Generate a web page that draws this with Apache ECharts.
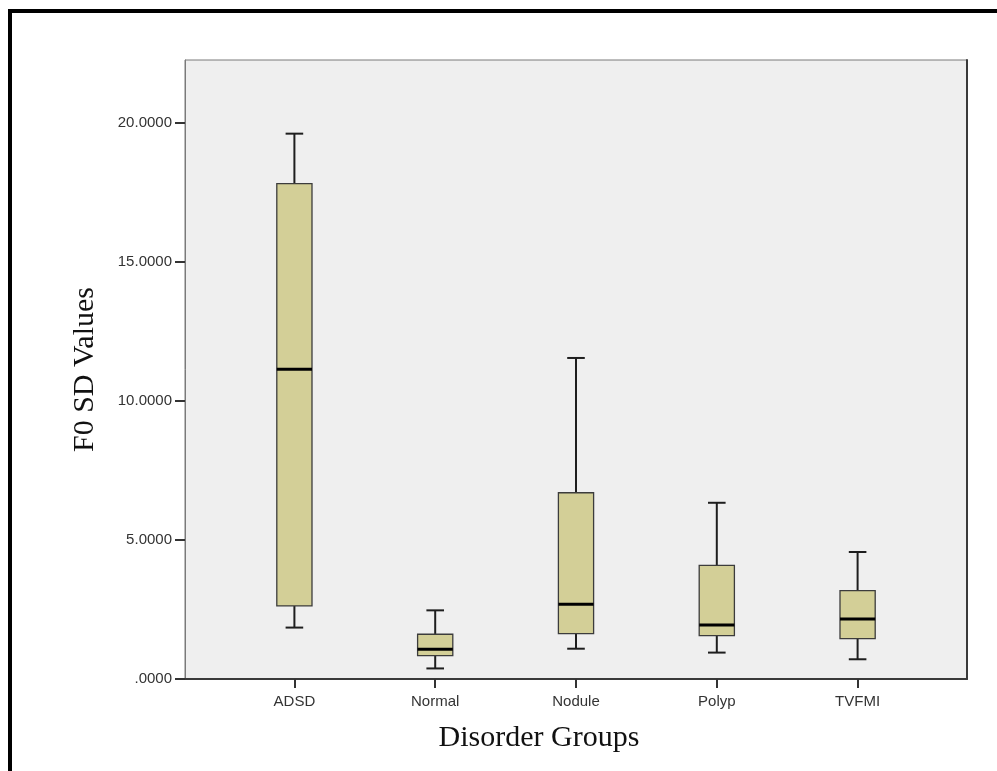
<!DOCTYPE html>
<html>
<head>
<meta charset="utf-8">
<title>F0 SD Values by Disorder Group</title>
<script src="https://cdn.jsdelivr.net/npm/echarts@6/dist/echarts.min.js"></script>
<style>
  html, body { margin: 0; padding: 0; background: #ffffff; }
  #chart { width: 997px; height: 771px; }
</style>
</head>
<body>
<div id="chart"></div>
<script>
// Groups along the x axis
var categories = ['ADSD', 'Normal', 'Nodule', 'Polyp', 'TVFMI'];

// Five-number summaries of F0 SD per group
var lowerWhisker = [1.85, 0.38, 1.09, 0.95, 0.71];
var quartile1    = [2.63, 0.84, 1.63, 1.56, 1.45];
var medians      = [11.14, 1.07, 2.69, 1.94, 2.16];
var quartile3    = [17.82, 1.61, 6.70, 4.09, 3.18];
var upperWhisker = [19.62, 2.47, 11.55, 6.34, 4.57];

// Value axis
var yTicks = [0, 5, 10, 15, 20];
var yMax = 22.27;

var boxData = categories.map(function (c, i) {
  return [i, lowerWhisker[i], quartile1[i], medians[i], quartile3[i], upperWhisker[i]];
});

function renderBox(params, api) {
  var i = api.value(0);
  var lo = api.coord([i, api.value(1)]);
  var q1 = api.coord([i, api.value(2)]);
  var md = api.coord([i, api.value(3)]);
  var q3 = api.coord([i, api.value(4)]);
  var hi = api.coord([i, api.value(5)]);
  var band = api.size([1, 0])[0];
  var bw = band * 0.25;
  var cw = bw * 0.5;
  var cx = md[0];
  var whisker = { stroke: '#1e1e1e', lineWidth: 2 };
  return {
    type: 'group',
    children: [
      { type: 'line', shape: { x1: cx, y1: q3[1], x2: cx, y2: hi[1] }, style: whisker },
      { type: 'line', shape: { x1: cx - cw / 2, y1: hi[1], x2: cx + cw / 2, y2: hi[1] }, style: whisker },
      { type: 'line', shape: { x1: cx, y1: q1[1], x2: cx, y2: lo[1] }, style: whisker },
      { type: 'line', shape: { x1: cx - cw / 2, y1: lo[1], x2: cx + cw / 2, y2: lo[1] }, style: whisker },
      {
        type: 'rect',
        shape: { x: cx - bw / 2, y: q3[1], width: bw, height: q1[1] - q3[1] },
        style: { fill: '#d3cf97', stroke: '#3c3c3c', lineWidth: 1.3 }
      },
      { type: 'line', shape: { x1: cx - bw / 2, y1: md[1], x2: cx + bw / 2, y2: md[1] },
        style: { stroke: '#000000', lineWidth: 3 } }
    ]
  };
}

var chart = echarts.init(document.getElementById('chart'), null, { renderer: 'canvas' });

chart.setOption({
  animation: false,
  backgroundColor: '#ffffff',
  graphic: [
    { type: 'line', shape: { x1: 8, y1: 11, x2: 997, y2: 11 }, style: { stroke: '#000', lineWidth: 4 }, silent: true },
    { type: 'line', shape: { x1: 10, y1: 9, x2: 10, y2: 771 }, style: { stroke: '#000', lineWidth: 4 }, silent: true }
  ],
  grid: [
    { left: 185, right: 30, top: 60, bottom: 92, show: true, backgroundColor: '#efefef',
      borderColor: '#7a7a7a', borderWidth: 1 },
    { left: 224, right: 69, top: 60, bottom: 92, show: false }
  ],
  xAxis: [
    { type: 'value', gridIndex: 0, min: 0, max: 1,
      axisLine: { show: true, lineStyle: { color: '#3a3a3a', width: 2 } },
      axisTick: { show: false }, axisLabel: { show: false }, splitLine: { show: false } },
    { type: 'category', gridIndex: 1, data: categories, boundaryGap: true,
      axisLine: { show: false },
      axisTick: { show: true, alignWithLabel: true, length: 9, lineStyle: { color: '#333', width: 2 } },
      axisLabel: { margin: 15, color: '#333', fontFamily: 'Liberation Sans', fontSize: 15 },
      splitLine: { show: false },
      name: 'Disorder Groups', nameLocation: 'middle', nameGap: 44,
      nameTextStyle: { fontFamily: 'Liberation Serif', fontSize: 30, color: '#111',
        padding: [0, 74, 0, 0] } }
  ],
  yAxis: [
    { type: 'value', gridIndex: 0, position: 'left', min: 0, max: yMax,
      axisLine: { show: true, lineStyle: { color: '#7a7a7a', width: 1 } },
      axisTick: { show: true, length: 10, customValues: yTicks, lineStyle: { color: '#333', width: 2 } },
      axisLabel: { show: true, margin: 13, customValues: yTicks, color: '#333',
        fontFamily: 'Liberation Sans', fontSize: 15,
        formatter: function (v) { return v === 0 ? '.0000' : v.toFixed(4); } },
      splitLine: { show: false },
      name: 'F0 SD Values', nameLocation: 'middle', nameGap: 85, nameRotate: 90,
      nameTextStyle: { fontFamily: 'Liberation Serif', fontSize: 30, color: '#111' } },
    { type: 'value', gridIndex: 1, min: 0, max: yMax, show: false },
    { type: 'value', gridIndex: 0, position: 'right', min: 0, max: yMax,
      axisLine: { show: true, lineStyle: { color: '#3a3a3a', width: 2 } },
      axisTick: { show: false }, axisLabel: { show: false }, splitLine: { show: false } }
  ],
  series: [
    {
      type: 'custom',
      xAxisIndex: 1,
      yAxisIndex: 1,
      renderItem: renderBox,
      encode: { x: 0, y: [1, 2, 3, 4, 5] },
      data: boxData
    }
  ]
});
</script>
</body>
</html>
